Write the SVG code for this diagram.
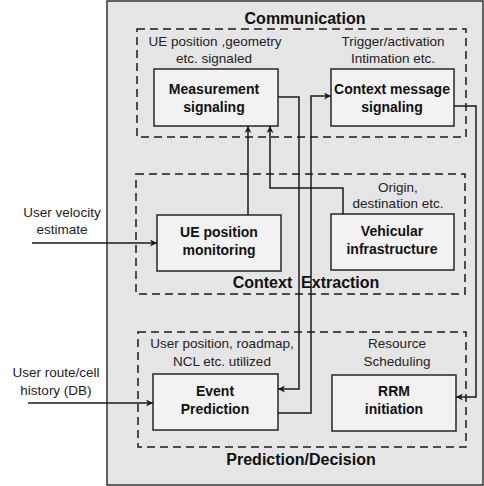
<svg xmlns="http://www.w3.org/2000/svg" width="484" height="486" viewBox="0 0 484 486">
<defs>
<marker id="arr" markerUnits="userSpaceOnUse" markerWidth="8" markerHeight="8" refX="7" refY="3.5" orient="auto">
<path d="M0,0 L7,3.5 L0,7 L2,3.5 z" fill="#1a1a1a"/>
</marker>
<style>
.outer{fill:#e5e5e5;stroke:#333;stroke-width:1.5}
.grp{fill:none;stroke:#1a1a1a;stroke-width:1.5;stroke-dasharray:8 5}
.box rect{fill:#f2f2f2;stroke:#262626;stroke-width:1.5}
.box text{font-family:"Liberation Sans",Arial,sans-serif;font-size:14px;font-weight:bold;text-anchor:middle;fill:#111}
.lbl{font-family:"Liberation Sans",Arial,sans-serif;font-size:13.5px;text-anchor:middle;fill:#222}
.ttl{font-family:"Liberation Sans",Arial,sans-serif;font-size:16px;font-weight:bold;text-anchor:middle;fill:#111;white-space:pre}
.conn path{fill:none;stroke:#1a1a1a;stroke-width:1.5;marker-end:url(#arr)}
</style>
</defs>
<rect class="outer" x="107" y="1" width="376" height="484"/>
<g id="group-communication">
<rect class="grp" x="137" y="29" width="329" height="108"/>
<text class="ttl" x="305" y="24">Communication</text>
<text class="lbl" x="215" y="46">UE position ,geometry</text>
<text class="lbl" x="214" y="63">etc. signaled</text>
<text class="lbl" x="393" y="46">Trigger/activation</text>
<text class="lbl" x="393" y="63">Intimation etc.</text>
</g>
<g id="group-context">
<rect class="grp" x="136" y="174" width="329" height="120"/>
<text class="ttl" x="306" y="288" xml:space="preserve">Context  Extraction</text>
<text class="lbl" x="398" y="192">Origin,</text>
<text class="lbl" x="398" y="208">destination etc.</text>
</g>
<g id="group-prediction">
<rect class="grp" x="138" y="332" width="328" height="115"/>
<text class="ttl" x="301" y="465">Prediction/Decision</text>
<text class="lbl" x="222" y="348">User position, roadmap,</text>
<text class="lbl" x="222" y="366">NCL etc. utilized</text>
<text class="lbl" x="397" y="348">Resource</text>
<text class="lbl" x="397" y="366">Scheduling</text>
</g>
<g id="node-measurement" class="box">
<rect x="154" y="69" width="124" height="57"/>
<text x="214" y="94">Measurement</text>
<text x="214" y="112">signaling</text>
</g>
<g id="node-context-msg" class="box">
<rect x="331" y="69" width="123" height="57"/>
<text x="392" y="94">Context message</text>
<text x="392" y="112">signaling</text>
</g>
<g id="node-ue-monitoring" class="box">
<rect x="157" y="215" width="124" height="56"/>
<text x="219" y="237">UE position</text>
<text x="219" y="255">monitoring</text>
</g>
<g id="node-vehicular" class="box">
<rect x="331" y="214" width="123" height="56"/>
<text x="392" y="236">Vehicular</text>
<text x="392" y="254">infrastructure</text>
</g>
<g id="node-event" class="box">
<rect x="153" y="374" width="125" height="56"/>
<text x="215" y="396">Event</text>
<text x="215" y="414">Prediction</text>
</g>
<g id="node-rrm" class="box">
<rect x="332" y="375" width="124" height="56"/>
<text x="394" y="396">RRM</text>
<text x="394" y="414">initiation</text>
</g>
<g id="inputs">
<text class="lbl" x="62" y="217">User velocity</text>
<text class="lbl" x="62" y="234">estimate</text>
<text class="lbl" x="56" y="377">User route/cell</text>
<text class="lbl" x="56" y="395">history (DB)</text>
</g>
<g id="connectors" class="conn">
<path d="M32 243 H157"/>
<path d="M28 403 H153"/>
<path d="M248 215 V126"/>
<path d="M343 214 V188 H270 V126"/>
<path d="M278 97 H299 V389 H278"/>
<path d="M278 413 H311 V96 H331"/>
<path d="M454 106 H476 V397 H456"/>
</g>
</svg>
